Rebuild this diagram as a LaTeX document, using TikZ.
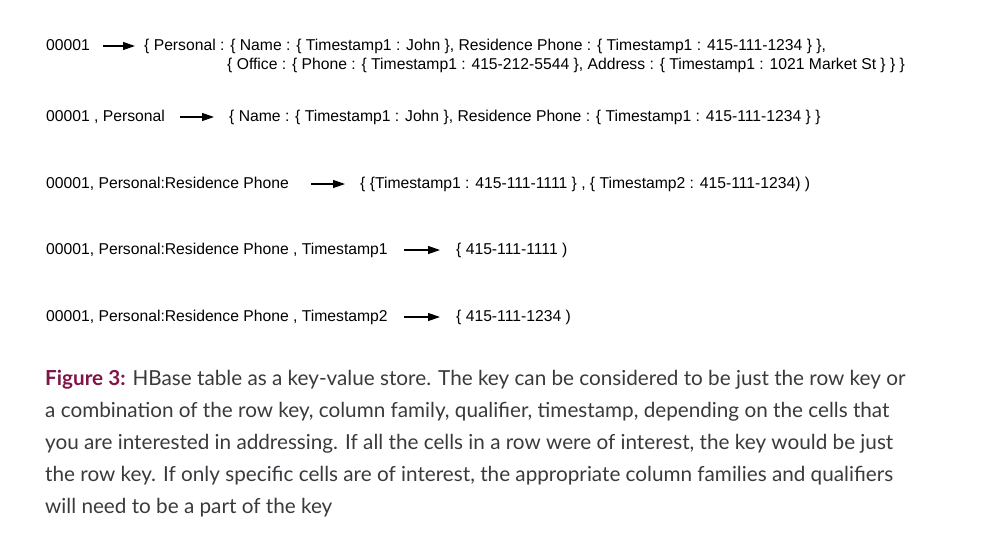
\documentclass[tikz,border=0pt]{standalone}
\usepackage{fontspec}
\setmainfont{Liberation Sans}
\newfontfamily\capfont{Lato}
\usetikzlibrary{arrows.meta,positioning}
\definecolor{figred}{RGB}{128,22,72}
\definecolor{capgray}{RGB}{58,58,62}

\tikzset{
  kvtext/.style={anchor=base west,inner sep=0pt,text height=11pt,text depth=3pt,
    font=\fontsize{15.7}{18}\selectfont},
  kvarrow/.style={-{Triangle[length=12pt,width=8pt]},line width=1.2pt},
  captext/.style={anchor=north west,inner sep=0pt,align=left,text=capgray,
    font=\capfont\fontsize{20.7}{32}\selectfont}
}

\begin{document}
\begin{tikzpicture}[x=1pt,y=-1pt]
		\useasboundingbox (0,0) rectangle (983,552);
		% keys
		\node[kvtext] (k1) at (46,50) {00001};
		\node[kvtext] (k2) at (46,121) {00001 , Personal};
		\node[kvtext] (k3) at (46,188) {00001, Personal:Residence Phone};
		\node[kvtext] (k4) at (46,254) {00001, Personal:Residence Phone , Timestamp1};
		\node[kvtext] (k5) at (46,321) {00001, Personal:Residence Phone , Timestamp2};
		% values
		\node[kvtext] (v1) at (144,50) {\{ Personal : \{ Name : \{ Timestamp1 : John \}, Residence Phone : \{ Timestamp1 : 415-111-1234 \} \},};
		\node[kvtext] (v1b) at (227,69) {\{ Office : \{ Phone : \{ Timestamp1 : 415-212-5544 \}, Address : \{ Timestamp1 : 1021 Market St \} \} \}};
		\node[kvtext] (v2) at (229,121) {\{ Name : \{ Timestamp1 : John \}, Residence Phone : \{ Timestamp1 : 415-111-1234 \} \}};
		\node[kvtext] (v3) at (360,188) {\{ \{Timestamp1 : 415-111-1111 \} , \{ Timestamp2 : 415-111-1234) )};
		\node[kvtext] (v4) at (456,254) {\{ 415-111-1111 )};
		\node[kvtext] (v5) at (456,321) {\{ 415-111-1234 )};
		% arrows
		\draw[kvarrow,shorten <=13pt,shorten >=9pt] (k1.east) -- (v1.west);
		\draw[kvarrow,shorten <=15pt,shorten >=15pt] (k2.east) -- (v2.west);
		\draw[kvarrow,shorten <=22pt,shorten >=15pt] (k3.east) -- (v3.west);
		\foreach \Row in {4,5}
		\draw[kvarrow,shorten <=16pt,shorten >=16pt] (k\Row.east) -- (v\Row.west);
		% caption
		\node[captext] (cap) at (45,370) {{\bfseries\color{figred}Figure 3:} HBase table as a key-value store. The key can be considered to be just the row key or\\
a combination of the row key, column family, qualifier, timestamp, depending on the cells that\\
you are interested in addressing. If all the cells in a row were of interest, the key would be just\\
the row key. If only specific cells are of interest, the appropriate column families and qualifiers\\
will need to be a part of the key};
	\end{tikzpicture}
\end{document}
